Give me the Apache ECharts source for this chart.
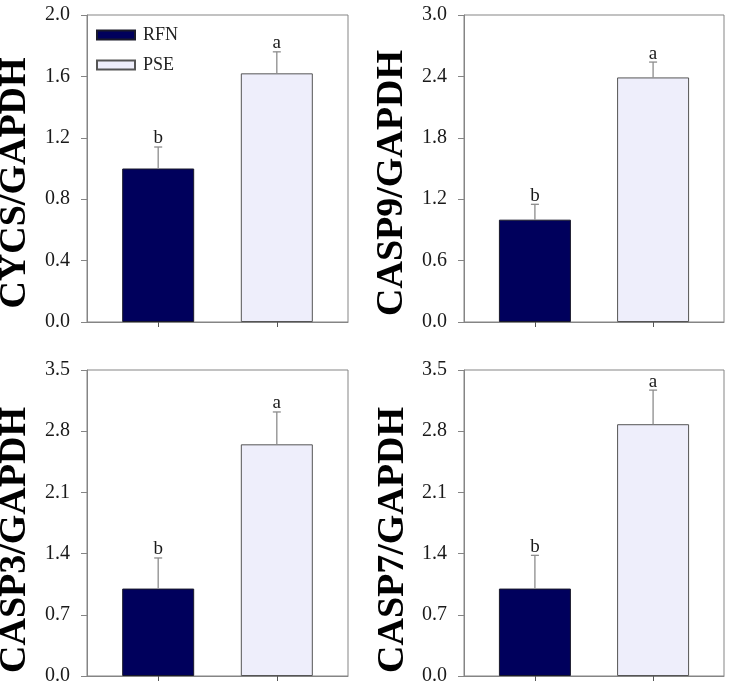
<!DOCTYPE html>
<html>
<head>
<meta charset="utf-8">
<script src="https://cdn.jsdelivr.net/npm/echarts@6/dist/echarts.min.js"></script>
<style>
html,body{margin:0;padding:0;background:#fff;}
#chart{width:729px;height:690px;}
</style>
</head>
<body>
<div id="chart"></div>
<script>
// ---- data ----
const groups = ['RFN', 'PSE'];
const panelTitles = ['CYCS/GAPDH', 'CASP9/GAPDH', 'CASP3/GAPDH', 'CASP7/GAPDH'];
const rfnMeans = [1.0, 1.0, 1.0, 1.0];
const rfnErrors = [0.14, 0.15, 0.35, 0.38];
const pseMeans = [1.62, 2.39, 2.65, 2.88];
const pseErrors = [0.14, 0.15, 0.37, 0.39];
const rfnLetters = ['b', 'b', 'b', 'b'];
const pseLetters = ['a', 'a', 'a', 'a'];
const yMaxes = [2.0, 3.0, 3.5, 3.5];
const yIntervals = [0.4, 0.6, 0.7, 0.7];

// ---- layout ----
const grids = [
  {left: 87, top: 15, width: 261, height: 307},
  {left: 464, top: 15, width: 260, height: 307},
  {left: 87, top: 370, width: 261, height: 306},
  {left: 464, top: 370, width: 260, height: 306}
];
const titlePos = [[15, 183], [392, 183], [15, 540], [393, 540]];
const FRAME = '#858585';
const SERIF = '"Liberation Serif", "Times New Roman", serif';
const RFN_COLOR = '#00005c';
const PSE_COLOR = '#eeeefb';

const chart = echarts.init(document.getElementById('chart'), null, {renderer: 'canvas'});

const gridOpts = [], xAxes = [], yAxes = [], series = [], graphics = [];

grids.forEach((g, i) => {
  gridOpts.push(Object.assign({show: true, borderColor: FRAME, borderWidth: 1, backgroundColor: 'transparent'}, g));
  xAxes.push({
    type: 'value', gridIndex: i, min: -0.6, max: 1.6,
    axisLine: {show: true, onZero: false, lineStyle: {color: FRAME, width: 1}},
    axisTick: {show: true, customValues: [0, 1], length: 5, inside: false, lineStyle: {color: '#555'}},
    axisLabel: {show: false},
    splitLine: {show: false}
  });
  yAxes.push({
    type: 'value', gridIndex: i, min: 0, max: yMaxes[i], interval: yIntervals[i],
    axisLine: {show: true, onZero: false, lineStyle: {color: FRAME, width: 1}},
    axisTick: {show: true, length: 6, lineStyle: {color: FRAME}},
    axisLabel: {
      margin: 17, color: '#1a1a1a', fontFamily: SERIF, fontSize: 20,
      formatter: v => v.toFixed(1)
    },
    splitLine: {show: false}
  });
  series.push({
    name: groups[0], type: 'bar', xAxisIndex: i, yAxisIndex: i,
    barWidth: 72, barGap: '-100%',
    itemStyle: {color: RFN_COLOR, borderColor: '#1a1a2a', borderWidth: 1},
    data: [[0, rfnMeans[i]]]
  });
  series.push({
    name: groups[1], type: 'bar', xAxisIndex: i, yAxisIndex: i,
    barWidth: 72, barGap: '-100%',
    itemStyle: {color: PSE_COLOR, borderColor: '#555555', borderWidth: 1},
    data: [[1, pseMeans[i]]]
  });
  const letters = [rfnLetters[i], pseLetters[i]];
  series.push({
    type: 'custom', xAxisIndex: i, yAxisIndex: i, z: 5, silent: true,
    data: [[0, rfnMeans[i], rfnErrors[i]], [1, pseMeans[i], pseErrors[i]]],
    renderItem: function (params, api) {
      const x = api.value(0), v = api.value(1), e = api.value(2);
      const p0 = api.coord([x, v]);
      const p1 = api.coord([x, v + e]);
      const c = '#8c8c8c';
      return {
        type: 'group',
        children: [
          {type: 'line', shape: {x1: p0[0], y1: p0[1], x2: p1[0], y2: p1[1]}, style: {stroke: c, lineWidth: 1.3}},
          {type: 'line', shape: {x1: p1[0] - 4, y1: p1[1], x2: p1[0] + 4, y2: p1[1]}, style: {stroke: c, lineWidth: 1.3}},
          {type: 'text', x: p1[0], y: p1[1] + 1,
           style: {text: letters[params.dataIndex], align: 'center', verticalAlign: 'bottom',
                   font: '19px ' + SERIF, fill: '#1a1a1a'}}
        ]
      };
    }
  });
  graphics.push({
    type: 'text', x: titlePos[i][0], y: titlePos[i][1], rotation: Math.PI / 2,
    style: {text: panelTitles[i], align: 'center', verticalAlign: 'middle',
            font: 'bold 38px ' + SERIF, fill: '#000'}
  });
});

chart.setOption({
  animation: false,
  backgroundColor: '#fff',
  grid: gridOpts,
  xAxis: xAxes,
  yAxis: yAxes,
  legend: {
    data: groups, orient: 'vertical', left: 96, top: 26, padding: 0,
    itemWidth: 38, itemHeight: 9, itemGap: 12, icon: 'rect',
    textStyle: {fontFamily: SERIF, fontSize: 18, color: '#222', padding: [0, 0, 0, 3]}
  },
  graphic: graphics,
  series: series
});
</script>
</body>
</html>
